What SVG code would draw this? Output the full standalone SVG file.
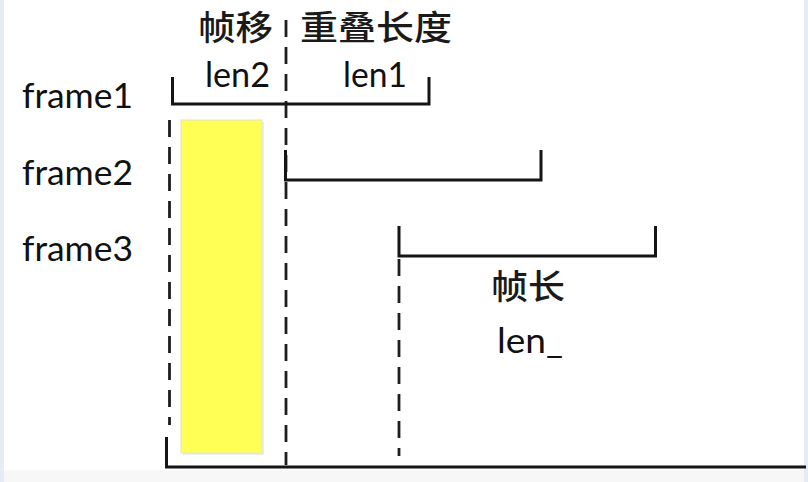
<svg xmlns="http://www.w3.org/2000/svg" width="808" height="482" viewBox="0 0 808 482">
  <style>
    .br { fill: none; stroke: #151515; stroke-width: 3; stroke-linecap: butt; stroke-linejoin: miter; }
    .dash { fill: none; stroke: #1e1e1e; stroke-width: 2.8; stroke-dasharray: 17 10; }
    .lat { font-family: Lato, "Liberation Sans", "Noto Sans CJK SC", sans-serif; font-size: 35px; fill: #111; }
    .cjk { font-family: "Noto Sans CJK SC", "Noto Sans", sans-serif; font-size: 34px; font-weight: 500; fill: #1a1a1a; }
  </style>
  <rect x="0" y="0" width="808" height="482" fill="#ffffff"/>
  <rect x="0" y="0" width="4" height="482" fill="#e6ecf3"/>
  <rect x="804" y="0" width="4" height="482" fill="#e6ecf3"/>
  <rect x="4" y="470" width="800" height="12" fill="#f7f7f7"/>

  <g id="window">
    <rect x="183" y="122" width="81" height="333" fill="#e8eef6"/>
    <rect x="181" y="120" width="81" height="333" fill="#ffff55" stroke="#e2e2c8" stroke-width="1"/>
  </g>

  <g id="connectors">
    <line class="dash" x1="169.5" y1="120" x2="169.5" y2="425"/>
    <line class="dash" x1="286" y1="20" x2="286" y2="465"/>
    <line class="dash" x1="399" y1="259" x2="399" y2="456"/>
    <polyline class="br" points="166.5,437 166.5,467 806,467"/>
  </g>

  <g id="frame1">
    <text class="lat" x="22" y="108" textLength="111" lengthAdjust="spacingAndGlyphs">frame1</text>
    <polyline class="br" points="172.5,77 172.5,104 429,104 429,77"/>
  </g>
  <g id="frame2">
    <text class="lat" x="22" y="185" textLength="111" lengthAdjust="spacingAndGlyphs">frame2</text>
    <polyline class="br" points="285.5,150 285.5,180 541,180 541,150"/>
  </g>
  <g id="frame3">
    <text class="lat" x="22" y="261" textLength="111" lengthAdjust="spacingAndGlyphs">frame3</text>
    <polyline class="br" points="399,226 399,256 655.5,256 655.5,226"/>
  </g>

  <g id="labels">
    <text class="cjk" x="198" y="40" textLength="75" lengthAdjust="spacingAndGlyphs">帧移</text>
    <text class="cjk" x="300" y="40" textLength="152" lengthAdjust="spacingAndGlyphs">重叠长度</text>
    <text class="lat" x="205" y="87" textLength="65" lengthAdjust="spacingAndGlyphs">len2</text>
    <text class="lat" x="343" y="87" textLength="64" lengthAdjust="spacingAndGlyphs">len1</text>
    <text class="cjk" x="491" y="299" textLength="74" lengthAdjust="spacingAndGlyphs">帧长</text>
    <text class="lat" x="497" y="353" textLength="66" lengthAdjust="spacingAndGlyphs">len_</text>
  </g>
</svg>
